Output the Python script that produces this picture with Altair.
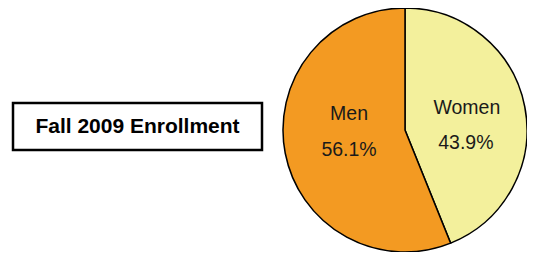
import altair as alt
import pandas as pd

genders = ["Women", "Men"]
shares = [43.9, 56.1]
labels = ["43.9%", "56.1%"]
order = [0, 1]
colors = ["#F3F09C", "#F39A22"]
title_text = "Fall 2009 Enrollment"

df = pd.DataFrame({"gender": genders, "share": shares, "label": labels, "order": order})

CX, CY, R = 397, 122, 122
FONT = "Liberation Sans"

pie = alt.Chart(df).mark_arc(outerRadius=R, stroke="black", strokeWidth=1.5).encode(
    theta=alt.Theta("share:Q", stack=True, scale=alt.Scale(domain=[0, 100])),
    order=alt.Order("order:Q"),
    x=alt.value(CX),
    y=alt.value(CY),
    color=alt.Color("gender:N", scale=alt.Scale(domain=genders, range=colors), legend=None),
)

lab_base = alt.Chart(df).transform_window(
    cum="sum(share)", sort=[alt.SortField("order")]
).transform_calculate(mid="datum.cum - datum.share / 2")


def label_layer(g, field, radius, dy):
    return lab_base.transform_filter(alt.datum.gender == g).mark_text(
        radius=radius, dy=dy, fontSize=19.5, font=FONT, color="#1a1a1a"
    ).encode(
        theta=alt.Theta("mid:Q", scale=alt.Scale(domain=[0, 100])),
        x=alt.value(CX),
        y=alt.value(CY),
        text=f"{field}:N",
    )


labels_layers = [
    label_layer("Women", "gender", 63, -10),
    label_layer("Women", "label", 62, 25),
    label_layer("Men", "gender", 57, -27),
    label_layer("Men", "label", 57, 9),
]

box = alt.Chart(pd.DataFrame({"t": [title_text]})).mark_rect(
    fill="white", stroke="black", strokeWidth=2.5
).encode(x=alt.value(5), x2=alt.value(254), y=alt.value(95), y2=alt.value(142))

box_txt = alt.Chart(pd.DataFrame({"t": [title_text]})).mark_text(
    fontSize=21, fontWeight="bold", font=FONT, color="black"
).encode(text="t:N", x=alt.value(129.5), y=alt.value(119))

chart = alt.layer(pie, *labels_layers, box, box_txt).properties(
    width=519, height=244, autosize=alt.AutoSizeParams(type="none"), padding=0
).configure_view(stroke=None)

chart.save("out.html", embed_options={"renderer": "svg", "actions": False})
